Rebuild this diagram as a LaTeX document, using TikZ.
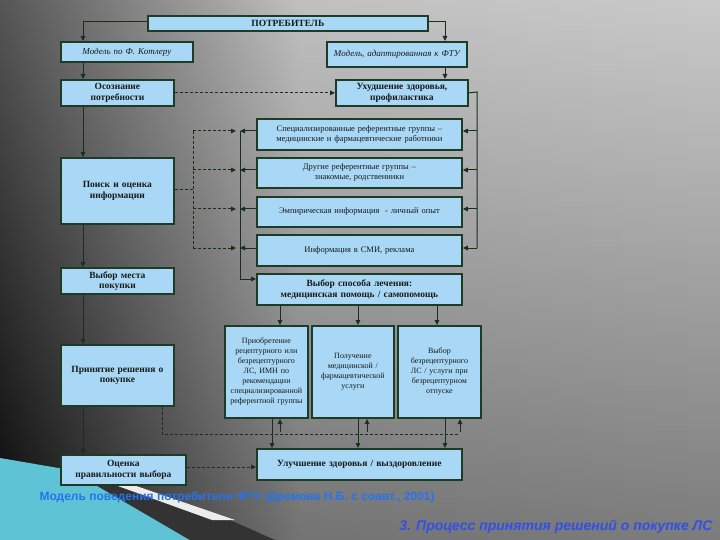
\documentclass[tikz,border=0pt]{standalone}
\usepackage{fontspec}
\setmainfont{Liberation Serif}
\newfontfamily\capfont{Liberation Sans}
\usetikzlibrary{arrows.meta,shapes.geometric}
\definecolor{boxfill}{HTML}{A8D8F5}
\definecolor{boxline}{HTML}{1E3B26}
\definecolor{captblue}{HTML}{3050E8}
\definecolor{teal1}{HTML}{5FC3D6}
\begin{document}
\begin{tikzpicture}[x=1pt,y=-1pt,
  box/.style={draw=boxline,line width=1.8pt,fill=boxfill,inner sep=1pt,align=center,font=\fontsize{8.5}{10}\selectfont,text=black!90},
  big/.style={font=\bfseries\fontsize{9.5}{10.5}\selectfont},
  con/.style={draw=boxline!80!black,line width=1pt},
  arr/.style={con,-{Triangle[length=5pt,width=4.5pt]}},
  dsh/.style={con,dash pattern=on 3pt off 2pt},
  darr/.style={dsh,-{Triangle[length=5pt,width=4.5pt]}}]
\useasboundingbox (0,0) rectangle (720,540);
\shade[left color=black!95,right color=gray!70] (0,0) rectangle (300,540);
\shade[left color=gray!70,right color=gray!60] (300,0) rectangle (720,540);
\shade[top color=white,bottom color=black,opacity=0.3] (0,0) rectangle (720,540);
% ribbon
\fill[teal1] (0,458) -- (70,470) -- (190,540) -- (0,540) -- cycle;
\fill[black!80] (70,470) -- (230,520) -- (275,540) -- (190,540) -- cycle;
\fill[white!85!gray] (68,468) -- (84,468) -- (235,520) -- (212,520) -- cycle;
% boxes
\newcommand\bx[7][]{\node[box,#1,minimum width=#5-#3,minimum height=#6-#4,text width=#5-#3-6,anchor=north west] (#2) at (#3,#4) {#7};}
\bx[big]{potr}{147}{15}{427}{30}{ПОТРЕБИТЕЛЬ}
\bx[font=\itshape\fontsize{9}{10}\selectfont]{kot}{60}{41}{192}{61}{Модель по Ф. Котлеру}
\bx[font=\itshape\fontsize{9}{10}\selectfont]{fty}{326}{41}{466}{66}{Модель, адаптированная к ФТУ}
\bx[big]{osoz}{60}{79}{173}{105}{Осознание\\потребности}
\bx[big]{uhud}{335}{79}{467}{105}{Ухудшение здоровья,\\профилактика}
\bx{g1}{256}{118}{461}{149}{Специализированные референтные группы --\\медицинские и фармацевтические работники}
\bx{g2}{256}{157}{461}{187}{Другие референтные группы --\\знакомые, родственники}
\bx{g3}{256}{196}{461}{226}{Эмпирическая информация \ - личный опыт}
\bx{g4}{256}{234}{461}{265}{Информация в СМИ, реклама}
\bx[big]{poisk}{60}{157}{173}{223}{Поиск и оценка\\информации}
\bx[big]{mesto}{60}{267}{173}{293}{Выбор места\\покупки}
\bx[big]{sposob}{256}{273}{461}{304}{Выбор способа лечения:\\медицинская помощь / самопомощь}
\bx[big]{prin}{60}{344}{173}{405}{Принятие решения о\\покупке}
\bx{b1}{224}{325}{307}{417}{\fontsize{8}{11}\selectfont Приобретение рецептурного или безрецептурного ЛС, ИМН по рекомендации специализированной референтной группы}
\bx{b2}{311}{325}{393}{417}{\fontsize{8}{11}\selectfont Получение медицинской / фармацевтической услуги}
\bx{b3}{397}{325}{480}{417}{\fontsize{8}{11}\selectfont Выбор безрецептурного ЛС / услуги при безрецептурном отпуске}
\bx[big]{ocen}{60}{454}{185}{484}{Оценка\\правильности выбора}
\bx[big]{uluch}{256}{448}{461}{479}{Улучшение здоровья / выздоровление}
% left column
\draw[arr] (potr.west |- 0,22) -- (83,22) -- (kot.north -| 83,0);
\draw[arr] (kot.south -| 83,0) -- (osoz.north -| 83,0);
\draw[arr] (osoz.south -| 83,0) -- (poisk.north -| 83,0);
\draw[arr] (poisk.south -| 83,0) -- (mesto.north -| 83,0);
\draw[arr] (mesto.south -| 83,0) -- (prin.north -| 83,0);
\draw[arr] (prin.south -| 83,0) -- (ocen.north -| 83,0);
% right top
\draw[arr] (potr.east |- 0,22) -- (445,22) -- (fty.north -| 445,0);
\draw[arr] (fty.south -| 445,0) -- (uhud.north -| 445,0);
\draw[darr] (osoz.east) -- (uhud.west);
\coordinate (rt) at (477,92);
\draw[con] (uhud.east) -- (rt) -- (477,248);
\foreach \y/\n in {131/g1,170/g2,209/g3,248/g4}{
  \draw[arr] (477,\y) -- (\n.east |- 0,\y);
  \draw[arr] (\n.west |- 0,\y) -- (240,\y);
  \draw[darr] (193,\y) -- (236,\y);
}
\draw[dsh] (poisk.east |- 0,190) -- (193,190);
\draw[dsh] (193,131) -- (193,248);
\draw[arr] (240,131) -- (240,279) -- (sposob.west |- 0,279);
% sposob to three
\draw[arr] (sposob.south -| 280,0) -- (b1.north -| 280,0);
\draw[arr] (sposob.south -| 358,0) -- (b2.north -| 358,0);
\draw[arr] (sposob.south -| 437,0) -- (b3.north -| 437,0);
\draw[arr] (b1.south -| 272,0) -- (uluch.north -| 272,0);
\draw[arr] (b2.south -| 358,0) -- (uluch.north -| 358,0);
\draw[arr] (b3.south -| 445,0) -- (uluch.north -| 445,0);
\foreach \x in {280,367,460}{\draw[arr] (\x,432) -- (\x,419);}
\draw[dsh] (prin.south -| 162,0) -- (162,434) -- (458,434);
\draw[darr] (ocen.east |- 0,467) -- (uluch.west |- 0,467);
% captions
\node[anchor=west,text=captblue!80!cyan,font=\capfont\bfseries\fontsize{12}{13}\selectfont] (cap1) at (36,497) {Модель поведения потребителя ФТУ (Дремова Н.Б. с соавт., 2001)};
\node[anchor=east,text=captblue,font=\capfont\bfseries\itshape\fontsize{14}{15}\selectfont] (cap2) at (716,527) {3. Процесс принятия решений о покупке ЛС};
\end{tikzpicture}
\end{document}
